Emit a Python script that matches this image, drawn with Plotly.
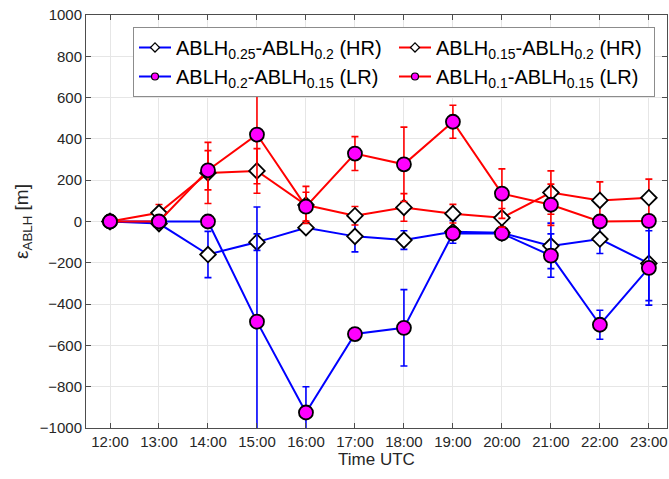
import plotly.graph_objects as go

times = ["12:00", "13:00", "14:00", "15:00", "16:00", "17:00", "18:00",
         "19:00", "20:00", "21:00", "22:00", "23:00"]

# ABLH0.25 - ABLH0.2 (HR)  (blue, diamonds)
hr_blue = [0, -10, -160, -100, -30, -72, -90, -50, -55, -118, -85, -203]
hr_blue_err = [0, 10, 112, 40, 15, 75, 45, 55, 20, 110, 70, 180]
# ABLH0.2 - ABLH0.15 (LR)  (blue, circles)
lr_blue = [0, 0, 0, -485, -925, -545, -515, -58, -58, -165, -500, -225]
lr_blue_err = [0, 0, 0, 555, 125, 30, 185, 20, 15, 105, 70, 180]
# ABLH0.15 - ABLH0.2 (HR)  (red, diamonds)
hr_red = [0, 42, 235, 245, 80, 28, 68, 38, 18, 140, 102, 115]
hr_red_err = [0, 40, 148, 108, 90, 45, 67, 45, 45, 105, 90, 90]
# ABLH0.1 - ABLH0.15 (LR)  (red, circles)
lr_red = [0, 0, 248, 421, 72, 329, 277, 483, 135, 81, 0, 3]
lr_red_err = [0, 0, 95, 238, 70, 82, 180, 80, 120, 100, 8, 8]

series = [
    (hr_blue, hr_blue_err, "#0000ff", "diamond", "white",
     "ABLH<sub>0.25</sub>-ABLH<sub>0.2</sub> (HR)", 1, 12),
    (lr_blue, lr_blue_err, "#0000ff", "circle", "#ff00ff",
     "ABLH<sub>0.2</sub>-ABLH<sub>0.15</sub> (LR)", 3, 14),
    (hr_red, hr_red_err, "#ff0000", "diamond", "white",
     "ABLH<sub>0.15</sub>-ABLH<sub>0.2</sub> (HR)", 2, 12),
    (lr_red, lr_red_err, "#ff0000", "circle", "#ff00ff",
     "ABLH<sub>0.1</sub>-ABLH<sub>0.15</sub> (LR)", 4, 14),
]

fig = go.Figure()

for y, err, color, symbol, fill, name, rank, size in series:
    fig.add_trace(go.Scatter(
        x=times, y=y, mode="lines+markers", name=name, showlegend=False,
        line=dict(color=color, width=2),
        marker=dict(symbol=symbol, size=size, color=fill,
                    line=dict(color="black", width=1.8)),
        error_y=dict(type="data", array=err, visible=True, color=color,
                     thickness=1.6, width=3.5),
    ))

# legend-only entries with small symbols (as in the reference legend)
for y, err, color, symbol, fill, name, rank, size in series:
    fig.add_trace(go.Scatter(
        x=[None], y=[None], mode="lines+markers", name=name, legendrank=rank,
        line=dict(color=color, width=2),
        marker=dict(symbol=symbol, size=7, color=fill,
                    line=dict(color="black", width=1.2)),
    ))

axis_common = dict(
    showgrid=True, gridcolor="#e6e6e6", gridwidth=1,
    showline=True, linecolor="#4d4d4d", linewidth=1, mirror="ticks",
    ticks="inside", ticklen=5, tickcolor="#4d4d4d",
    tickfont=dict(family="Liberation Sans", size=15, color="#262626"),
    zeroline=False, automargin=False,
)

fig.update_layout(
    width=669, height=479,
    margin=dict(l=86, r=2, t=15, b=51),
    paper_bgcolor="white", plot_bgcolor="white",
    font=dict(family="Liberation Sans", color="#262626"),
    xaxis=dict(type="category", range=[-0.49, 11.37],
               title=dict(text="Time UTC", font=dict(size=17), standoff=4),
               **axis_common),
    yaxis=dict(range=[-1000, 1000], tickvals=list(range(-1000, 1001, 200)),
               title=dict(text="ε<sub>ABLH</sub> [m]", font=dict(size=19), standoff=6),
               **axis_common),
    legend=dict(
        orientation="h", x=0.0809, y=0.971, xanchor="left", yanchor="top",
        entrywidth=213, entrywidthmode="pixels",
        bgcolor="white", bordercolor="#8c8c8c", borderwidth=1,
        font=dict(family="Liberation Sans", size=20, color="black"),
        tracegroupgap=0, itemwidth=32,
    ),
    showlegend=True,
)

fig.write_html("out.html", config={"displayModeBar": False},
               post_script="document.body.style.margin='0';document.body.style.overflow='hidden';")
